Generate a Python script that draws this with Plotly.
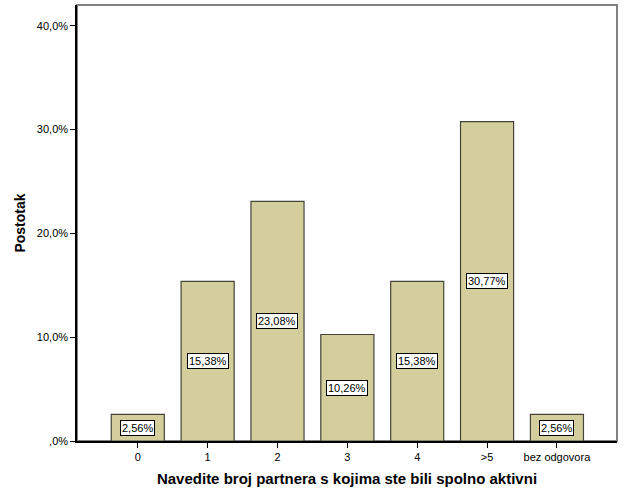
import plotly.graph_objects as go

categories = ["0", "1", "2", "3", "4", ">5", "bez odgovora"]
values = [2.56, 15.38, 23.08, 10.26, 15.38, 30.77, 2.56]
labels = ["2,56%", "15,38%", "23,08%", "10,26%", "15,38%", "30,77%", "2,56%"]
ytick_vals = [0, 10, 20, 30, 40]
ytick_text = [",0%", "10,0%", "20,0%", "30,0%", "40,0%"]

x_idx = list(range(len(categories)))

fig = go.Figure()
fig.add_trace(go.Bar(
    x=x_idx, y=values, width=0.76,
    marker=dict(color="#d3ce9c", line=dict(color="#44443a", width=1.2)),
    hoverinfo="skip",
))

for i, (v, t) in enumerate(zip(values, labels)):
    fig.add_annotation(
        x=i, y=v / 2, text=t, showarrow=False,
        font=dict(family="Liberation Sans, Arial", size=11, color="black"),
        bgcolor="white", bordercolor="black", borderwidth=1, borderpad=1,
        xref="x", yref="y",
    )

fig.add_shape(type="rect", xref="paper", yref="paper", x0=0, y0=0, x1=1, y1=1,
              line=dict(color="#808080", width=2), layer="below")

fig.update_layout(
    width=626, height=501,
    margin=dict(l=77, r=9, t=5, b=60),
    plot_bgcolor="white", paper_bgcolor="white",
    showlegend=False,
    font=dict(family="Liberation Sans, Arial", size=11, color="black"),
    xaxis=dict(
        range=[-0.87, 6.86], tickmode="array", tickvals=x_idx, ticktext=categories,
        showline=True, linecolor="black", linewidth=1.5,
        ticks="outside", ticklen=5, tickcolor="black", showgrid=False, zeroline=False,
        title=dict(text="<b>Navedite broj partnera s kojima ste bili spolno aktivni</b>",
                   font=dict(size=15, family="Liberation Sans, Arial"), standoff=12),
    ),
    yaxis=dict(
        range=[0, 42], tickmode="array", tickvals=ytick_vals, ticktext=ytick_text,
        showline=True, linecolor="black", linewidth=1.5,
        ticks="outside", ticklen=5, tickcolor="black", showgrid=False, zeroline=False,
        title=dict(text="<b>Postotak</b>",
                   font=dict(size=14, family="Liberation Sans, Arial"), standoff=8),
    ),
)

fig.write_html("out.html")
